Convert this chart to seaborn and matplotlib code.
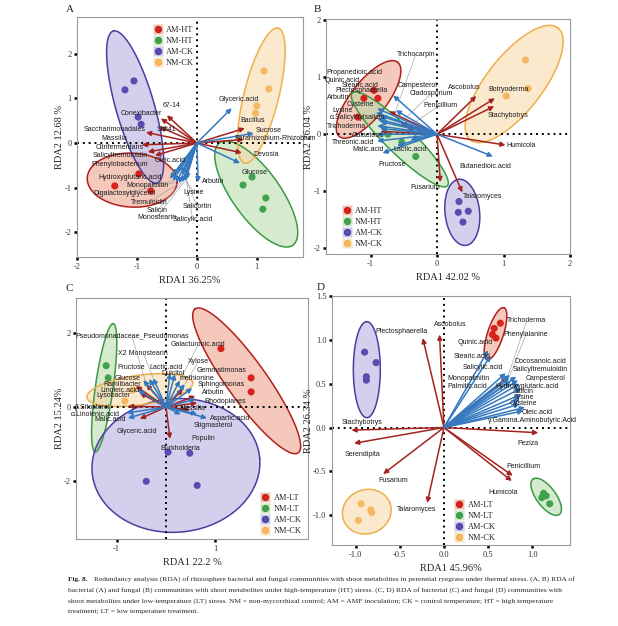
import matplotlib
matplotlib.use('Agg')
import matplotlib.pyplot as plt
from matplotlib.lines import Line2D
import numpy as np
import pandas as pd
import seaborn as sns

sns.set_theme(style='white')
plt.rcParams['font.family'] = ['Liberation Serif', 'DejaVu Serif']
plt.rcParams['axes.unicode_minus'] = False
SANS = ['Liberation Sans', 'DejaVu Sans']

# ---------------- Panel A : bacteria, high temperature ----------------
A_groups = ['AM-HT', 'NM-HT', 'AM-CK', 'NM-CK']
A_pt_grp = ['AM-HT'] * 3 + ['NM-HT'] * 4 + ['AM-CK'] * 4 + ['NM-CK'] * 4
A_pt_x = [-0.97, -1.37, -0.77, 0.77, 0.92, 1.15, 1.10, -1.20, -1.05, -0.98, -0.93, 1.12, 1.20, 1.00, 0.98]
A_pt_y = [-0.69, -0.96, -1.07, -0.94, -0.76, -1.23, -1.48, 1.19, 1.39, 0.58, 0.42, 1.61, 1.21, 0.83, 0.67]
A_el_cx = [-1.08, 0.99, -1.03, 1.075]
A_el_cy = [-0.83, -1.14, 0.805, 1.06]
A_el_a = [0.75, 1.05, 1.32, 1.16]
A_el_b = [0.45, 0.40, 0.32, 0.29]
A_el_ang = [-3, 125.6, 106, 76]
A_ar_name = ['67-14', 'Conexibacter', 'Sbli41', 'Saccharimonadales', 'Massilia', 'Citrifermentans',
             'Phenylobacterium', 'Bacillus', 'Pararhizobium-Rhizobium', 'Devosia',
             'Glyceric.acid', 'Sucrose', 'Glucose', 'Arbutin', 'Oleic.acid', 'Salicyltremuloidin',
             'Hydroxyglutaric.acid', 'Monopalmitin', 'Digalactosylglycerol', 'Tremuloidin', 'Salicin',
             'Monostearin', 'Salicylic.acid', 'Salicortin', 'Lysine']
A_ar_kind = ['t'] * 10 + ['m'] * 15
A_ar_x = [-0.50, -0.60, -0.62, -0.85, -0.92, -0.82, -0.70, 0.80, 0.78, 0.75,
          0.58, 0.95, 0.72, 0.02, -0.32, -0.40, -0.45, -0.40, -0.35, -0.30, -0.25, -0.20, -0.18, -0.20, -0.25]
A_ar_y = [0.62, 0.55, 0.36, 0.24, -0.04, -0.20, -0.28, 0.33, 0.08, -0.22,
          0.78, 0.22, -0.45, -0.88, -0.65, -0.72, -0.80, -0.85, -0.88, -0.90, -0.88, -0.85, -0.80, -0.75, -0.70]
A_lb_x = [-0.42, -0.92, -0.50, -1.37, -1.37, -1.28, -1.28, 0.93, 1.30, 1.15,
          0.70, 1.20, 0.97, 0.27, -0.45, -1.28, -1.12, -0.83, -1.20, -0.80, -0.67, -0.67, -0.07, 0.00, -0.05]
A_lb_y = [0.85, 0.67, 0.31, 0.31, 0.11, -0.09, -0.49, 0.51, 0.10, -0.25,
          0.98, 0.27, -0.65, -0.87, -0.40, -0.29, -0.78, -0.96, -1.12, -1.32, -1.52, -1.66, -1.72, -1.41, -1.10]
A_lead = ['Monopalmitin', 'Digalactosylglycerol', 'Tremuloidin', 'Salicin', 'Monostearin',
          'Salicylic.acid', 'Salicortin', 'Lysine']

# ---------------- Panel B : fungi, high temperature ----------------
B_groups = ['AM-HT', 'NM-HT', 'AM-CK', 'NM-CK']
B_pt_grp = ['AM-HT'] * 4 + ['NM-HT'] * 3 + ['AM-CK'] * 4 + ['NM-CK'] * 3
B_pt_x = [-0.95, -0.89, -1.10, -1.19, -0.74, -0.53, -0.32, 0.33, 0.32, 0.47, 0.39, 1.33, 1.37, 1.04]
B_pt_y = [0.77, 0.63, 0.63, 0.30, 0.00, -0.14, -0.39, -1.18, -1.37, -1.35, -1.54, 1.30, 0.80, 0.67]
B_el_cx = [-1.03, -0.56, 0.38, 1.16]
B_el_cy = [0.61, -0.09, -1.37, 0.88]
B_el_a = [0.71, 1.00, 0.50, 1.07]
B_el_b = [0.27, 0.21, 0.26, 0.42]
B_el_ang = [52, 135.6, 96, 52]
B_ar_name = ['Botryoderma', 'Ascobolus', 'Stachybotrys', 'Humicola', 'Fusarium', 'Talaromyces',
             'Plectosphaerella', 'Trichoderma', 'Cladosporium', 'Penicillium',
             'Campesterol', 'Trichocarpin', 'Propanedioic.acid', 'Quinic.acid', 'Stearic.acid', 'Arbutin',
             'Cysteine', 'Lysine', 'α.Salicyloylsalicin', 'Galactose', 'Threonic.acid', 'Malic.acid',
             'Lactic.acid', 'Fructose', 'Butanedioic.acid']
B_ar_kind = ['t'] * 10 + ['m'] * 15
B_ar_x = [0.87, 0.59, 0.86, 1.03, 0.05, 0.38, -0.72, -0.85, -0.55, -0.45,
          -0.66, -0.62, -0.90, -0.92, -0.85, -0.90, -0.85, -0.90, -0.85, -0.90, -0.90, -0.82, -0.40, -0.60, 0.84]
B_ar_y = [0.63, 0.67, 0.49, -0.19, -0.84, -1.02, 0.40, 0.05, 0.20, 0.12,
          0.68, 0.42, 0.45, 0.38, 0.32, 0.27, 0.22, 0.15, 0.10, 0.00, -0.12, -0.33, -0.10, -0.20, -0.39]
B_lb_x = [1.07, 0.41, 1.07, 1.27, -0.18, 0.68, -1.13, -1.36, -0.08, 0.05,
          -0.29, -0.32, -1.24, -1.42, -1.16, -1.49, -1.16, -1.42, -1.19, -1.04, -1.27, -1.04, -0.41, -0.68, 0.72]
B_lb_y = [0.79, 0.82, 0.33, -0.19, -0.93, -1.09, 0.76, 0.14, 0.72, 0.51,
          0.86, 1.40, 1.09, 0.95, 0.86, 0.64, 0.52, 0.41, 0.29, -0.02, -0.15, -0.26, -0.26, -0.53, -0.56]
B_lead = ['Cladosporium', 'Penicillium', 'Trichocarpin']

# ---------------- Panel C : bacteria, low temperature ----------------
C_groups = ['AM-LT', 'NM-LT', 'AM-CK', 'NM-CK']
C_pt_grp = ['AM-LT'] * 3 + ['NM-LT'] * 2 + ['AM-CK'] * 4 + ['NM-CK'] * 2
C_pt_x = [1.11, 1.72, 1.72, -1.21, -1.17, 0.04, 0.48, -0.40, 0.63, -0.67, -0.83]
C_pt_y = [1.58, 0.79, 0.41, 1.12, 0.79, -1.22, -1.25, -2.01, -2.12, 0.46, 0.16]
C_el_cx = [1.63, -1.25, 0.20, -0.53]
C_el_cy = [0.71, 0.52, -1.58, 0.46]
C_el_a = [1.79, 1.31, 1.70, 1.08]
C_el_b = [0.40, 0.18, 1.35, 0.30]
C_el_ang = [125.6, 82, 5, 8]
C_ar_name = ['Pseudomonadaceae_Pseudomonas', 'Ramlibacter', 'Lysobacter', 'β.Sitosterol', 'Glyceric.acid',
             'Gemmatimonas', 'Sphingomonas', 'Rhodoplanes', 'Massilia', 'Burkholderia',
             'Glucose', 'Fructose', 'X2 Monostearin', 'Lactic.acid', 'Dulcitol', 'Galacturonic.acid',
             'Xylose', 'methionine', 'Arbutin', 'Linoleic.acid', 'α.Linolenic.acid', 'Malic.acid',
             'Aspartic.acid', 'Stigmasterol', 'Populin']
C_ar_kind = ['t'] * 10 + ['m'] * 15
C_ar_x = [-0.40, -0.61, -0.53, -0.77, -0.53, 0.34, 0.59, 0.63, 0.48, 0.08,
          -0.46, -0.34, -0.26, 0.08, 0.18, 0.28, 0.38, 0.53, 0.60, -0.57, -0.79, -0.77, 0.83, 0.63, 0.30]
C_ar_y = [0.62, 0.57, 0.38, 0.02, -0.32, 0.49, 0.30, 0.11, -0.08, -0.86,
          0.73, 0.76, 0.78, 0.92, 0.89, 0.72, 0.62, 0.51, 0.22, 0.46, -0.16, -0.30, -0.30, -0.19, -0.20]
C_lb_x = [-0.69, -0.89, -1.07, -1.50, -0.59, 1.13, 1.11, 1.19, 0.53, 0.28,
          -0.77, -0.71, -0.46, 0.00, 0.15, 0.65, 0.65, 0.62, 0.95, -0.93, -1.43, -1.13, 1.29, 0.95, 0.75]
C_lb_y = [1.92, 0.62, 0.30, 0.00, -0.65, 1.00, 0.62, 0.14, -0.03, -1.11,
          0.78, 1.08, 1.46, 1.08, 0.92, 1.68, 1.22, 0.76, 0.38, 0.46, -0.19, -0.35, -0.30, -0.49, -0.84]
C_lead = ['Pseudomonadaceae_Pseudomonas', 'X2 Monostearin', 'Galacturonic.acid', 'Xylose']

# ---------------- Panel D : fungi, low temperature ----------------
D_groups = ['AM-LT', 'NM-LT', 'AM-CK', 'NM-CK']
D_pt_grp = ['AM-LT'] * 4 + ['NM-LT'] * 4 + ['AM-CK'] * 4 + ['NM-CK'] * 4
D_pt_x = [0.57, 0.64, 0.59, 0.55, 1.13, 1.11, 1.16, 1.20, -0.90, -0.77, -0.88, -0.88, -0.94, -0.83, -0.82, -0.97]
D_pt_y = [1.13, 1.19, 1.02, 1.06, -0.75, -0.80, -0.78, -0.87, 0.86, 0.74, 0.58, 0.54, -0.87, -0.94, -0.97, -1.06]
D_el_cx = [0.585, 1.16, -0.875, -0.875]
D_el_cy = [1.07, -0.79, 0.66, -0.96]
D_el_a = [0.31, 0.25, 0.545, 0.28]
D_el_b = [0.09, 0.11, 0.153, 0.25]
D_el_ang = [72, 126.6, 90, 20]
D_ar_name = ['Plectosphaerella', 'Ascobolus', 'Trichoderma', 'Stachybotrys', 'Serendipita', 'Fusarium',
             'Talaromyces', 'Peziza', 'Penicillium', 'Humicola',
             'Quinic.acid', 'Stearic.acid', 'Salicylic.acid', 'Phenylalanine', 'Monopalmitin', 'Palmitic.acid',
             'Docosanoic.acid', 'Salicyltremuloidin', 'Campesterol', 'Hydroxyglutaric.acid', 'Salicin',
             'Lysine', 'Cysteine', 'Oleic.acid', 'γ.Gamma.Aminobutyric.Acid']
D_ar_kind = ['t'] * 10 + ['m'] * 15
D_ar_x = [-0.24, -0.05, 0.72, -1.05, -1.02, -0.69, -0.19, 1.07, 0.78, 0.77,
          0.50, 0.53, 0.70, 0.75, 0.74, 0.76, 0.82, 0.84, 0.86, 0.88, 0.88, 0.86, 0.86, 0.92, 0.90]
D_ar_y = [1.02, 1.06, 0.57, -0.03, -0.18, -0.53, -0.86, -0.06, -0.55, -0.61,
          0.88, 0.82, 0.62, 0.60, 0.56, 0.53, 0.58, 0.54, 0.50, 0.45, 0.38, 0.32, 0.27, 0.23, 0.19]
D_lb_x = [-0.48, 0.07, 0.94, -0.93, -0.92, -0.58, -0.31, 0.95, 0.90, 0.67,
          0.35, 0.32, 0.44, 0.93, 0.28, 0.26, 1.09, 1.09, 1.15, 0.94, 0.90, 0.90, 0.90, 1.06, 1.00]
D_lb_y = [1.10, 1.18, 1.22, 0.06, -0.31, -0.61, -0.93, -0.18, -0.45, -0.74,
          0.97, 0.81, 0.69, 1.06, 0.56, 0.47, 0.75, 0.66, 0.56, 0.47, 0.41, 0.34, 0.27, 0.17, 0.08]
D_lead = ['Trichoderma', 'Phenylalanine']

# ---------------- colours ----------------
pt_col = {'AM-HT': '#D9221C', 'AM-LT': '#D9221C', 'NM-HT': '#3FA34D', 'NM-LT': '#3FA34D',
          'AM-CK': '#5A4BB0', 'NM-CK': '#F4B860'}
fill_col = {'AM-HT': '#EC9E84', 'AM-LT': '#EC9E84', 'NM-HT': '#B5D9A6', 'NM-LT': '#B5D9A6',
            'AM-CK': '#AFAAE0', 'NM-CK': '#F8D7A6'}
edge_col = {'AM-HT': '#B3201C', 'AM-LT': '#B3201C', 'NM-HT': '#3A9A45', 'NM-LT': '#3A9A45',
            'AM-CK': '#4A3E9C', 'NM-CK': '#EFAE4C'}
arrow_col = {'t': '#A3231F', 'm': '#3479BF'}

fig = plt.figure(figsize=(6.18, 6.26), dpi=100)
FW, FH = 618, 626


def add_axes_px(l, t, r, b):
    return fig.add_axes([l / FW, 1 - b / FH, (r - l) / FW, (b - t) / FH])


def draw_panel(ax, groups, pt_grp, pt_x, pt_y, el_cx, el_cy, el_a, el_b, el_ang,
               ar_name, ar_kind, ar_x, ar_y, lb_x, lb_y, lead,
               xlim, ylim, xticks, yticks, fmt, xlabel, ylabel, leg_anchor):
    ax.set_xlim(xlim)
    ax.set_ylim(ylim)
    bb = ax.get_position()
    k = (bb.height * FH / (ylim[1] - ylim[0])) / (bb.width * FW / (xlim[1] - xlim[0]))
    t = np.linspace(0, 2 * np.pi, 200)
    for g, cx, cy, a, b, ang in zip(groups, el_cx, el_cy, el_a, el_b, el_ang):
        th = np.deg2rad(ang)
        ex = a * np.cos(t) * np.cos(th) - b * np.sin(t) * np.sin(th)
        ey = a * np.cos(t) * np.sin(th) + b * np.sin(t) * np.cos(th)
        ax.fill(cx + ex, cy + ey / k, facecolor=fill_col[g], alpha=0.55, edgecolor='none', zorder=1)
        ax.plot(cx + ex, cy + ey / k, color=edge_col[g], lw=1.1, zorder=1.5)

    ax.axhline(0, color='black', ls=(0, (1, 2)), lw=1.4, zorder=2)
    ax.axvline(0, color='black', ls=(0, (1, 2)), lw=1.4, zorder=2)

    df = pd.DataFrame({'x': pt_x, 'y': pt_y, 'g': pt_grp})
    sns.scatterplot(data=df, x='x', y='y', hue='g', hue_order=groups,
                    palette={g: pt_col[g] for g in groups}, s=26, linewidth=0,
                    legend=False, ax=ax, zorder=3)

    for name, kd, tx, ty, lx, ly in zip(ar_name, ar_kind, ar_x, ar_y, lb_x, lb_y):
        if name in lead:
            ax.plot([tx, lx], [ty, ly], color='#a0a0a0', lw=0.45, zorder=3.2)
        ax.annotate('', xy=(tx, ty), xytext=(0, 0),
                    arrowprops=dict(arrowstyle='-|>', color=arrow_col[kd], lw=1.1,
                                    mutation_scale=7, shrinkA=0, shrinkB=0), zorder=4)
        ax.text(lx, ly, name, fontsize=5, family=SANS, color='#1a1a1a',
                ha='center', va='center', zorder=5)

    ax.set_xticks(xticks)
    ax.set_xticklabels([fmt % v for v in xticks])
    ax.set_yticks(yticks)
    ax.set_yticklabels([fmt % v for v in yticks])
    ax.tick_params(axis='both', length=2, width=1.8, color='black', labelsize=6,
                   labelcolor='#333333', pad=2, bottom=True, left=True)
    for s in ax.spines.values():
        s.set_color('#9a9a9a')
        s.set_linewidth(0.8)
    ax.set_xlabel(xlabel, fontsize=7.5, labelpad=4, color='#222222')
    ax.set_ylabel(ylabel, fontsize=7.5, labelpad=0, color='#222222')

    handles = []
    for g in groups:
        bg = Line2D([], [], marker='s', ls='none', markersize=7, markerfacecolor=fill_col[g],
                    markeredgecolor='none', alpha=0.6)
        fg = Line2D([], [], marker='o', ls='none', markersize=4.5, markerfacecolor=pt_col[g],
                    markeredgecolor=edge_col[g], markeredgewidth=0.7)
        handles.append((bg, fg))
    ax.legend(handles, groups, loc='upper left', bbox_to_anchor=leg_anchor, frameon=False,
              fontsize=6, handlelength=1.2, handletextpad=0.4, labelspacing=0.35,
              borderaxespad=0)


axA = add_axes_px(77, 17, 303, 257)
draw_panel(axA, A_groups, A_pt_grp, A_pt_x, A_pt_y, A_el_cx, A_el_cy, A_el_a, A_el_b, A_el_ang,
           A_ar_name, A_ar_kind, A_ar_x, A_ar_y, A_lb_x, A_lb_y, A_lead,
           (-2.0, 1.77), (-2.55, 2.82), [-2, -1, 0, 1], [-2, -1, 0, 1, 2], '%g',
           'RDA1 36.25%', 'RDA2 12.68 %', (0.32, 0.975))

axB = add_axes_px(326, 19, 570, 254)
draw_panel(axB, B_groups, B_pt_grp, B_pt_x, B_pt_y, B_el_cx, B_el_cy, B_el_a, B_el_b, B_el_ang,
           B_ar_name, B_ar_kind, B_ar_x, B_ar_y, B_lb_x, B_lb_y, B_lead,
           (-1.67, 2.0), (-2.1, 2.02), [-1, 0, 1, 2], [-2, -1, 0, 1, 2], '%g',
           'RDA1 42.02 %', 'RDA2 26.04 %', (0.05, 0.215))

axC = add_axes_px(76, 298, 308, 539)
draw_panel(axC, C_groups, C_pt_grp, C_pt_x, C_pt_y, C_el_cx, C_el_cy, C_el_a, C_el_b, C_el_ang,
           C_ar_name, C_ar_kind, C_ar_x, C_ar_y, C_lb_x, C_lb_y, C_lead,
           (-1.82, 2.87), (-3.57, 2.95), [-1, 1], [-2, 0, 2], '%g',
           'RDA1 22.2 %', 'RDA2 15.24%', (0.78, 0.2))

axD = add_axes_px(332, 296, 570, 545)
draw_panel(axD, D_groups, D_pt_grp, D_pt_x, D_pt_y, D_el_cx, D_el_cy, D_el_a, D_el_b, D_el_ang,
           D_ar_name, D_ar_kind, D_ar_x, D_ar_y, D_lb_x, D_lb_y, D_lead,
           (-1.27, 1.43), (-1.34, 1.5), [-1.0, -0.5, 0.0, 0.5, 1.0], [-1.0, -0.5, 0.0, 0.5, 1.0, 1.5],
           '%.1f', 'RDA1 45.96%', 'RDA2 26.34 %', (0.5, 0.19))

for letter, x, y in [('A', 66, 10), ('B', 314, 10), ('C', 66, 289), ('D', 317, 288)]:
    fig.text(x / FW, 1 - y / FH, letter, fontsize=8, ha='left', va='center', color='#222222')

cap = ['Redundancy analysis (RDA) of rhizosphere bacterial and fungal communities with shoot metabolites in perennial ryegrass under thermal stress. (A, B) RDA of',
       'bacterial (A) and fungal (B) communities with shoot metabolites under high-temperature (HT) stress. (C, D) RDA of bacterial (C) and fungal (D) communities with',
       'shoot metabolites under low-temperature (LT) stress. NM = non-mycorrhizal control; AM = AMF inoculation; CK = control temperature; HT = high temperature',
       'treatment; LT = low temperature treatment.']
fig.text(68 / FW, 1 - 579 / FH, 'Fig. 8.', fontsize=5.4, weight='bold', ha='left', va='center')
fig.text(94 / FW, 1 - 579 / FH, cap[0], fontsize=5.4, ha='left', va='center')
for i, line in enumerate(cap[1:]):
    fig.text(68 / FW, 1 - (590 + 11 * i) / FH, line, fontsize=5.4, ha='left', va='center')

fig.savefig('out.png', dpi=100)
